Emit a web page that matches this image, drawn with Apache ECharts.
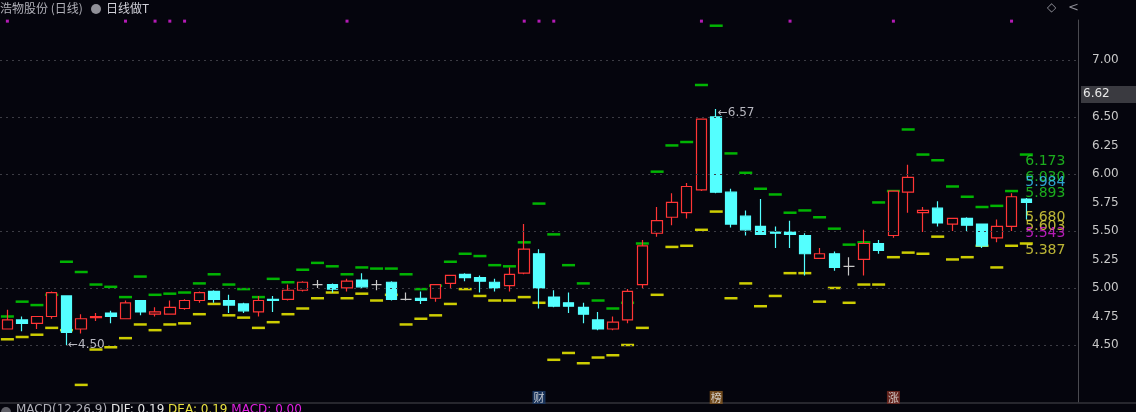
<!DOCTYPE html>
<html>
<head>
<meta charset="utf-8">
<script src="https://cdn.jsdelivr.net/npm/echarts@6/dist/echarts.min.js"></script>
<style>
html,body{margin:0;padding:0;background:#05050d;}
#main{width:1136px;height:412px;}
</style>
</head>
<body>
<div id="main"></div>
<script>
// 日K: [开, 收, 低, 高]
var kdata = [
	[4.64,4.72,4.64,4.81],[4.72,4.69,4.62,4.75],[4.69,4.75,4.64,4.75],[4.75,4.96,4.73,4.97],
	[4.93,4.61,4.50,4.93],[4.64,4.73,4.60,4.77],[4.74,4.75,4.71,4.78],[4.78,4.75,4.69,4.80],
	[4.73,4.87,4.73,4.89],[4.89,4.79,4.76,4.89],[4.77,4.79,4.75,4.83],[4.77,4.83,4.77,4.89],
	[4.82,4.89,4.81,4.90],[4.89,4.96,4.87,4.97],[4.97,4.90,4.87,4.98],[4.89,4.85,4.78,4.94],
	[4.86,4.80,4.78,4.87],[4.79,4.89,4.75,4.93],[4.90,4.89,4.79,4.93],[4.90,4.98,4.89,5.03],
	[4.98,5.05,4.97,5.06],[5.03,5.03,5.00,5.07],[5.03,4.99,4.96,5.04],[5.00,5.06,4.97,5.08],
	[5.07,5.01,4.99,5.13],[5.03,5.03,4.98,5.07],[5.05,4.90,4.89,5.06],[4.90,4.90,4.89,4.96],
	[4.91,4.89,4.86,4.97],[4.91,5.03,4.88,5.03],[5.04,5.11,4.99,5.11],[5.12,5.09,5.06,5.13],
	[5.09,5.06,4.96,5.11],[5.05,5.00,4.97,5.08],[5.02,5.12,4.97,5.18],[5.13,5.34,5.12,5.56],
	[5.30,5.00,4.82,5.34],[4.92,4.84,4.83,4.98],[4.87,4.84,4.78,4.96],[4.83,4.77,4.69,4.87],
	[4.72,4.64,4.63,4.79],[4.64,4.70,4.63,4.75],[4.72,4.97,4.69,4.99],[5.03,5.37,5.00,5.42],
	[5.48,5.59,5.45,5.71],[5.62,5.75,5.55,5.83],[5.66,5.89,5.61,5.92],[5.86,6.48,5.85,6.48],
	[6.50,5.84,5.83,6.57],[5.84,5.56,5.53,5.87],[5.63,5.51,5.46,5.68],[5.54,5.47,5.47,5.78],
	[5.49,5.48,5.35,5.54],[5.49,5.47,5.35,5.59],[5.46,5.30,5.11,5.48],[5.26,5.30,5.26,5.35],
	[5.30,5.18,5.15,5.32],[5.19,5.19,5.11,5.27],[5.25,5.39,5.11,5.51],[5.39,5.33,5.30,5.42],
	[5.46,5.85,5.44,5.85],[5.84,5.97,5.66,6.08],[5.66,5.68,5.49,5.71],[5.70,5.57,5.54,5.76],
	[5.56,5.61,5.50,5.61],[5.61,5.55,5.50,5.62],[5.56,5.37,5.35,5.56],[5.44,5.54,5.40,5.60],
	[5.54,5.80,5.50,5.83],[5.78,5.75,5.60,5.79]
];
// 压力位(绿)与支撑位(黄)
var greenLevel = [4.75,4.88,4.85,4.94,5.23,5.14,5.03,5.01,4.92,5.10,4.94,4.95,4.96,5.04,5.12,5.03,4.99,4.92,
	5.08,5.05,5.16,5.22,5.19,5.12,5.18,5.17,5.17,5.12,4.99,5.02,5.23,5.30,5.28,5.20,5.19,5.40,
	5.74,5.47,5.20,5.04,4.89,4.82,4.87,5.39,6.02,6.25,6.28,6.78,7.30,6.18,6.01,5.87,5.82,5.66,
	5.68,5.62,5.52,5.38,5.40,5.75,5.85,6.39,6.17,6.12,5.89,5.80,5.71,5.72,5.85,6.17];
var yellowLevel = [4.55,4.57,4.59,4.65,4.63,4.15,4.46,4.48,4.56,4.68,4.63,4.68,4.69,4.77,4.86,4.76,4.74,4.65,
	4.70,4.77,4.82,4.91,4.96,4.91,4.95,4.89,4.94,4.68,4.73,4.76,4.86,4.99,4.93,4.89,4.89,4.92,
	4.87,4.37,4.43,4.34,4.39,4.41,4.50,4.65,4.94,5.36,5.37,5.51,5.67,4.91,5.04,4.84,4.93,5.13,
	5.13,4.88,5.00,4.87,5.03,5.03,5.27,5.31,5.30,5.45,5.25,5.27,5.37,5.18,5.37,5.39];
var dotIdx = [0,8,10,11,12,23,35,36,37,47,53,60,68];
var eventIdx = [36,48,60];
var eventText = ['财','榜','涨'];
var eventBg = ['#1c3c6c','#8a5a20','#7a2a20'];
var sideLabels = [['6.173','#22d622'],['6.030','#22d622'],['5.984','#38c8ff'],['5.893','#22d622'],
	['5.680','#e8e040'],['5.603','#e8e040'],['5.543','#e020e0'],['5.387','#e8e040']];
var gridLines = [4.5,5.0,5.5,6.0,6.5,7.0];
var axisTicks = [4.5,4.75,5.0,5.25,5.5,5.75,6.0,6.25,6.5,7.0];

var N = 73;
var cats = [];
for (var i = 0; i < N; i++) cats.push(String(i));

function dashes(arr) {
	return arr.map(function(v, i){ return [i, v]; });
}

var myChart = echarts.init(document.getElementById('main'));
var option = {
	backgroundColor: '#05050d',
	animation: false,
	textStyle: {fontFamily: 'Noto Sans CJK SC'},
	grid: {left: -2.4, right: 58, top: 20, bottom: 10},
	xAxis: {
		type: 'category', data: cats, boundaryGap: true,
		axisLine: {show: false}, axisTick: {show: false}, axisLabel: {show: false}, splitLine: {show: false}
	},
	yAxis: {
		type: 'value', position: 'right', min: 4.0, max: 7.35, interval: 0.25,
		axisLine: {show: true, lineStyle: {color: '#4a4a50'}},
		axisTick: {show: false},
		splitLine: {show: false},
		axisLabel: {
			color: '#c8c8c8', fontSize: 12, fontFamily: 'DejaVu Sans', margin: 14,
			formatter: function(v){ return axisTicks.indexOf(Math.round(v*100)/100) >= 0 ? v.toFixed(2) : ''; }
		}
	},
	series: [
		{
			type: 'scatter', data: dashes(greenLevel), symbol: 'rect', symbolSize: [13, 2.5],
			itemStyle: {color: '#00e000'}, z: 1
		},
		{
			type: 'scatter', data: dashes(yellowLevel), symbol: 'rect', symbolSize: [13, 2.5],
			itemStyle: {color: '#ffff00'}, z: 1
		},
		{
			type: 'candlestick', data: kdata, barWidth: 11, z: 3,
			itemStyle: {
				color: '#05050d', color0: '#54ffff',
				borderColor: '#ff3535', borderColor0: '#54ffff',
				borderColorDoji: '#c8c8c8', borderWidth: 1.2
			},
			markLine: {
				silent: true, symbol: 'none',
				lineStyle: {color: '#3c3c44', type: [2, 4], width: 1},
				label: {show: false},
				data: gridLines.map(function(v){ return {yAxis: v}; })
			},
			markPoint: {
				symbol: 'rect', symbolSize: 1, itemStyle: {color: 'transparent'},
				label: {color: '#b8b8c0', fontSize: 12, fontFamily: 'DejaVu Sans'},
				data: [
					{coord: [48, 6.57], value: '6.57', label: {formatter: '←6.57', position: 'right', offset: [-4, 4]}},
					{coord: [4, 4.50], value: '4.50', label: {formatter: '←4.50', position: 'right', offset: [-4, 0]}}
				]
			}
		},
		{
			type: 'scatter', symbol: 'rect', symbolSize: [3, 3], itemStyle: {color: '#e020e0'},
			data: dotIdx.map(function(i){ return [i, 7.34]; })
		},
		{
			type: 'scatter', symbol: 'rect', symbolSize: [13, 13], z: 5,
			data: eventIdx.map(function(i, k){
				return {value: [i, 4.04], itemStyle: {color: eventBg[k]},
					label: {show: true, formatter: eventText[k], color: '#e8e8e8', fontSize: 11}};
			})
		},
		{
			type: 'scatter', symbol: 'rect', symbolSize: [12, 1.5], z: 5,
			data: sideLabels.map(function(s){
				var v = parseFloat(s[0]);
				return {value: [69, v], itemStyle: {color: 'transparent'},
					label: {show: true, formatter: s[0], position: 'right', offset: [-12, 7],
						color: s[1], fontSize: 14, fontFamily: 'DejaVu Sans'}};
			})
		}
	],
	graphic: [
		{type: 'text', left: 0, top: 2, style: {text: '浩物股份 (日线)', fill: '#b0b0b8', font: '12px "Noto Sans CJK SC"'}},
		{type: 'circle', shape: {cx: 96, cy: 9, r: 5}, style: {fill: '#909098'}},
		{type: 'text', left: 106, top: 2, style: {text: '日线做T', fill: '#d0d0d8', font: '12px "Noto Sans CJK SC"'}},
		{type: 'text', left: 1047, top: 2, style: {text: '◇', fill: '#909098', font: '12px DejaVu Sans'}},
		{type: 'text', left: 1068, top: 1, style: {text: '<', fill: '#909098', font: '13px DejaVu Sans'}},
		{type: 'rect', z: 100, shape: {x: 1081, y: 86, width: 55, height: 17}, style: {fill: '#3a3a40'}},
		{type: 'text', z: 101, left: 1083, top: 88, style: {text: '6.62', fill: '#e8e8e8', font: '12px DejaVu Sans'}},
		{type: 'line', shape: {x1: 0, y1: 403, x2: 1136, y2: 403}, style: {stroke: '#4a4a50', lineWidth: 1}},
		{type: 'circle', shape: {cx: 6, cy: 412, r: 5}, style: {fill: '#606068'}},
		{type: 'text', left: 16, top: 404, style: {rich: {a: {fill: '#b0b0b8'}, b: {fill: '#e8e8e8'}, c: {fill: '#e8e040'}, d: {fill: '#e020e0'}},
			text: '{a|MACD(12,26,9)} {b|DIF: 0.19} {c|DEA: 0.19} {d|MACD: 0.00}', font: '12px DejaVu Sans'}}
	]
};
myChart.setOption(option);
window.addEventListener('resize', function(){ myChart.resize(); });
</script>
</body>
</html>
